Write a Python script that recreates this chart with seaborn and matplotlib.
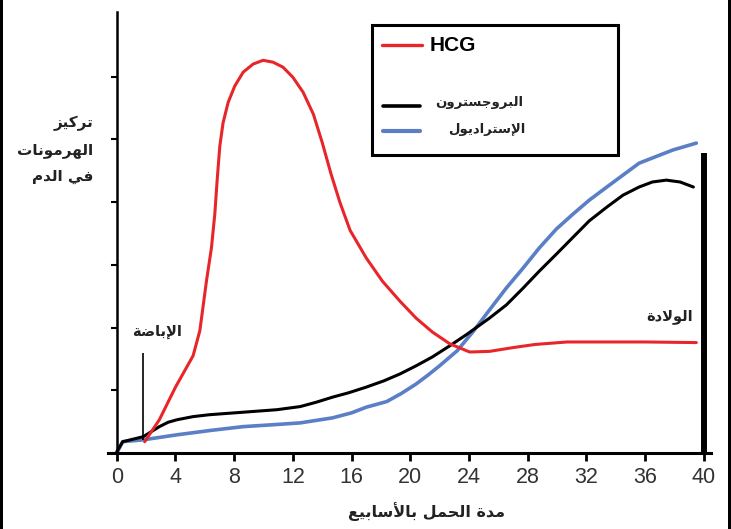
import numpy as np
import pandas as pd
import matplotlib
matplotlib.use("Agg")
import matplotlib.pyplot as plt
import seaborn as sns
from matplotlib.lines import Line2D
from matplotlib.patches import Rectangle

# weeks of pregnancy / hormone level (tick units)
hcg_weeks = [1.9, 2.9, 4.0, 4.6, 5.2, 5.66, 6.11, 6.45, 6.68, 6.84, 7.02, 7.24, 7.59,
             8.04, 8.61, 9.29, 9.97, 10.65, 11.33, 12.0, 12.7, 13.4, 14.0, 14.6,
             15.2, 15.9, 17.0, 18.1, 19.3, 20.4, 21.5, 22.7, 24.05, 25.4, 27.0,
             28.5, 30.7, 33.0, 36.0, 39.5]
hcg_level = [0.18, 0.53, 1.05, 1.3, 1.55, 1.95, 2.74, 3.27, 3.81, 4.35, 4.89, 5.26, 5.59,
             5.85, 6.07, 6.2, 6.26, 6.23, 6.15, 5.99, 5.75, 5.4, 4.95, 4.45,
             4.0, 3.55, 3.11, 2.74, 2.42, 2.15, 1.93, 1.74, 1.61, 1.62, 1.68,
             1.73, 1.77, 1.77, 1.77, 1.76]

prog_weeks = [0.0, 0.4, 1.8, 2.9, 3.5, 4.1, 5.2, 6.3, 8.6, 10.9, 12.5, 13.6, 14.7, 15.8,
              17.0, 18.2, 19.3, 20.4, 21.5, 22.7, 23.85, 25.4, 26.55, 27.7, 28.8,
              29.96, 31.1, 32.2, 33.4, 34.5, 35.6, 36.5, 37.45, 38.4, 39.3]
prog_level = [0.02, 0.18, 0.26, 0.42, 0.49, 0.53, 0.58, 0.61, 0.65, 0.69, 0.74, 0.81, 0.89,
              0.96, 1.05, 1.15, 1.26, 1.39, 1.53, 1.71, 1.89, 2.15, 2.36, 2.63, 2.9,
              3.17, 3.44, 3.7, 3.92, 4.11, 4.24, 4.32, 4.35, 4.32, 4.24]

estr_weeks = [0.0, 0.4, 1.8, 4.1, 6.4, 8.6, 10.6, 12.5, 14.7, 16.0, 17.0, 18.4, 19.4,
              20.4, 21.2, 22.0, 23.2, 24.3, 25.4, 26.55, 27.7, 28.8, 29.96, 31.1,
              32.2, 33.4, 34.5, 35.6, 36.8, 37.9, 39.5]
estr_level = [0.0, 0.18, 0.21, 0.29, 0.36, 0.42, 0.45, 0.48, 0.56, 0.64, 0.73, 0.82, 0.95,
              1.10, 1.24, 1.39, 1.63, 1.94, 2.28, 2.63, 2.95, 3.27, 3.57, 3.81,
              4.03, 4.24, 4.43, 4.62, 4.73, 4.83, 4.94]

x_ticks = [0, 4, 8, 12, 16, 20, 24, 28, 32, 36, 40]
y_ticks = [0, 1, 2, 3, 4, 5, 6]

ovulation_week = 1.8
birth_week = 40

lbl_hcg = "HCG"
lbl_prog = "البروجسترون"
lbl_estr = "الإستراديول"
lbl_ovul = "الإباضة"
lbl_birth = "الولادة"
lbl_y = ["تركيز", "الهرمونات", "في الدم"]
lbl_x = "مدة الحمل بالأسابيع"

RED = "#e8262a"
BLUE = "#5a7fc6"

# ---- minimal arabic shaping (matplotlib has no complex text layout) ----
FORMS = {
    'ا': ('\uFE8D', '\uFE8E', None, None),
    'أ': ('\uFE83', '\uFE84', None, None),
    'إ': ('\uFE87', '\uFE88', None, None),
    'ب': ('\uFE8F', '\uFE90', '\uFE91', '\uFE92'),
    'ة': ('\uFE93', '\uFE94', None, None),
    'ت': ('\uFE95', '\uFE96', '\uFE97', '\uFE98'),
    'ج': ('\uFE9D', '\uFE9E', '\uFE9F', '\uFEA0'),
    'ح': ('\uFEA1', '\uFEA2', '\uFEA3', '\uFEA4'),
    'د': ('\uFEA9', '\uFEAA', None, None),
    'ر': ('\uFEAD', '\uFEAE', None, None),
    'ز': ('\uFEAF', '\uFEB0', None, None),
    'س': ('\uFEB1', '\uFEB2', '\uFEB3', '\uFEB4'),
    'ض': ('\uFEBD', '\uFEBE', '\uFEBF', '\uFEC0'),
    'ع': ('\uFEC9', '\uFECA', '\uFECB', '\uFECC'),
    'ف': ('\uFED1', '\uFED2', '\uFED3', '\uFED4'),
    'ك': ('\uFED9', '\uFEDA', '\uFEDB', '\uFEDC'),
    'ل': ('\uFEDD', '\uFEDE', '\uFEDF', '\uFEE0'),
    'م': ('\uFEE1', '\uFEE2', '\uFEE3', '\uFEE4'),
    'ن': ('\uFEE5', '\uFEE6', '\uFEE7', '\uFEE8'),
    'ه': ('\uFEE9', '\uFEEA', '\uFEEB', '\uFEEC'),
    'و': ('\uFEED', '\uFEEE', None, None),
    'ي': ('\uFEF1', '\uFEF2', '\uFEF3', '\uFEF4'),
}
LAM_ALEF = {'ا': ('\uFEFB', '\uFEFC'), 'أ': ('\uFEF7', '\uFEF8'), 'إ': ('\uFEF9', '\uFEFA')}


def shape(text):
    items = []
    i = 0
    while i < len(text):
        c = text[i]
        if c == 'ل' and i + 1 < len(text) and text[i + 1] in LAM_ALEF:
            items.append(('LA', text[i + 1]))
            i += 2
        else:
            items.append((c, None))
            i += 1

    def joins_next(it):
        return it[0] in FORMS and FORMS[it[0]][2] is not None

    def joinable(it):
        return it[0] == 'LA' or it[0] in FORMS

    out = []
    for k, it in enumerate(items):
        c, a = it
        prev_join = k > 0 and joins_next(items[k - 1]) and joinable(it)
        if c == 'LA':
            out.append(LAM_ALEF[a][1 if prev_join else 0])
            continue
        if c not in FORMS:
            out.append(c)
            continue
        f = FORMS[c]
        nxt = f[2] is not None and k + 1 < len(items) and joinable(items[k + 1])
        if prev_join and nxt:
            out.append(f[3])
        elif prev_join:
            out.append(f[1])
        elif nxt:
            out.append(f[2])
        else:
            out.append(f[0])
    return ''.join(reversed(out))


sns.set_style("white")
plt.rcParams['font.family'] = ['Liberation Sans', 'DejaVu Sans']
AR = ['DejaVu Sans']

df = pd.concat([
    pd.DataFrame({'week': hcg_weeks, 'level': hcg_level, 'hormone': 'hcg'}),
    pd.DataFrame({'week': prog_weeks, 'level': prog_level, 'hormone': 'prog'}),
    pd.DataFrame({'week': estr_weeks, 'level': estr_level, 'hormone': 'estr'}),
])

W, H = 731, 529
fig = plt.figure(figsize=(W / 100, H / 100), dpi=100)
ax = fig.add_axes([108 / W, (H - 453) / H, 603 / W, 441 / H])


def fx(px):
    return px / W


def fy(py):
    return 1 - py / H


line_kw = dict(sort=False, estimator=None, ax=ax, solid_joinstyle='round',
               solid_capstyle='round')
sns.lineplot(data=df[df.hormone == 'estr'], x='week', y='level', color=BLUE, lw=2.6, **line_kw)
sns.lineplot(data=df[df.hormone == 'prog'], x='week', y='level', color='black', lw=2.2, **line_kw)
sns.lineplot(data=df[df.hormone == 'hcg'], x='week', y='level', color=RED, lw=2.2, **line_kw)

ax.vlines(ovulation_week, 0.21, 1.6, color='black', lw=1.2)
ax.vlines(birth_week, 0, 4.78, color='black', lw=4.3)

ax.set_xlim(-0.6, 40.5)
ax.set_ylim(0, 7.03)
ax.spines['left'].set_position(('data', 0))
for s in ['top', 'right']:
    ax.spines[s].set_visible(False)
ax.spines['left'].set_linewidth(1.8)
ax.spines['bottom'].set_linewidth(2.2)
ax.spines['left'].set_color('black')
ax.spines['bottom'].set_color('black')

ax.set_xticks(x_ticks)
ax.set_xticklabels([str(t) for t in x_ticks])
ax.set_yticks(y_ticks)
ax.set_yticklabels([])
ax.tick_params(axis='x', direction='out', length=6, width=2, color='black',
               labelsize=15.5, labelcolor='#333333', pad=4, bottom=True)
ax.tick_params(axis='y', direction='out', length=4, width=1.5, color='black', left=True)
ax.set_xlabel('')
ax.set_ylabel('')

# annotations
ax.text(2.75, 1.93, shape(lbl_ovul), family=AR, weight='bold', fontsize=10.5,
        color='#222222', ha='center', va='center')
ax.text(37.7, 2.18, shape(lbl_birth), family=AR, weight='bold', fontsize=10.5,
        color='#222222', ha='center', va='center')

# axis titles
for txt, py in zip(lbl_y, [123, 150, 177]):
    fig.text(fx(93), fy(py), shape(txt), family=AR, weight='bold', fontsize=11,
             color='#222222', ha='right', va='center')
fig.text(fx(427), fy(512), shape(lbl_x), family=AR, weight='bold', fontsize=11.5,
         color='#222222', ha='center', va='center')

# legend box
fig.add_artist(Rectangle((fx(372), fy(155)), fx(618) - fx(372), fy(25) - fy(155),
                         transform=fig.transFigure, fill=False, lw=2.2, ec='black'))
fig.add_artist(Line2D([fx(382), fx(422)], [fy(45), fy(45)], color=RED, lw=2.4,
                      transform=fig.transFigure))
fig.text(fx(430), fy(46), lbl_hcg, fontsize=15, weight='bold', color='black',
         ha='left', va='center')
fig.add_artist(Line2D([fx(383), fx(420)], [fy(106), fy(106)], color='black', lw=2.6,
                      transform=fig.transFigure))
fig.text(fx(523), fy(102), shape(lbl_prog), family=AR, weight='bold', fontsize=9.5,
         color='#222222', ha='right', va='center')
fig.add_artist(Line2D([fx(383), fx(420)], [fy(131), fy(131)], color=BLUE, lw=3,
                      transform=fig.transFigure))
fig.text(fx(525), fy(130), shape(lbl_estr), family=AR, weight='bold', fontsize=9.5,
         color='#222222', ha='right', va='center')

# dark strips on both image edges
fig.add_artist(Rectangle((0, 0), fx(3), 1, transform=fig.transFigure, color='black', lw=0))
fig.add_artist(Rectangle((fx(728), 0), fx(3), 1, transform=fig.transFigure, color='black', lw=0))

fig.savefig("out.png", dpi=100)
